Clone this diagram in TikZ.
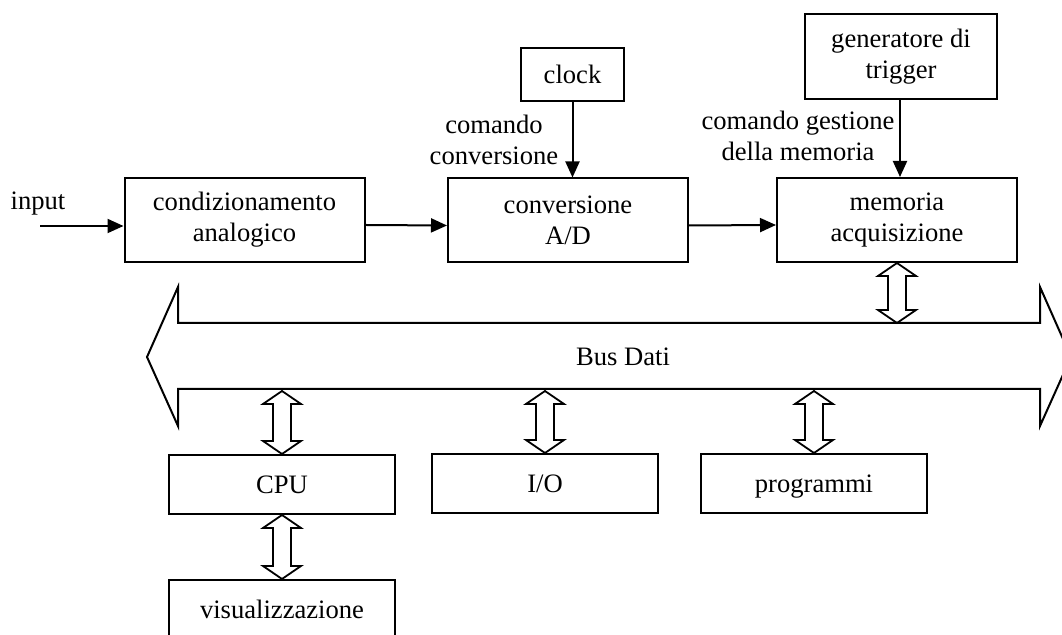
\documentclass[tikz,border=0pt]{standalone}
\usepackage{fontspec}
\setmainfont{Liberation Serif}
\usetikzlibrary{arrows.meta,calc}

\tikzset{
  blk/.style={draw,line width=1pt,inner sep=0pt,align=center},
  sig/.style={line width=1pt,-{Triangle[length=8pt,width=7pt]}},
  blockarrow/.style={line width=0.9pt,line join=miter}
}

% vertical block arrow with two heads, from #1 (top) to #2 (bottom)
\newcommand{\dbarrow}[2]{%
  \draw[blockarrow] let \p1=(#1), \p2=(#2) in
    (\x1,\y1) -- (\x1+9.5pt,\y1-6.5pt) -- (\x1+4.5pt,\y1-6.5pt)
    -- (\x1+4.5pt,\y2+6.5pt) -- (\x1+9.5pt,\y2+6.5pt) -- (\x1,\y2)
    -- (\x1-9.5pt,\y2+6.5pt) -- (\x1-4.5pt,\y2+6.5pt)
    -- (\x1-4.5pt,\y1-6.5pt) -- (\x1-9.5pt,\y1-6.5pt) -- cycle;}

\begin{document}
\begin{tikzpicture}[x=0.5pt,y=-0.5pt,every node/.style={font=\fontsize{13.3}{15.5}\selectfont}]
\useasboundingbox (0,0) rectangle (1062,635);

\begin{scope}[every node/.append style={blk,minimum width=120pt,minimum height=42pt}]
\node (cond) at (244.5,220) {condizionamento\\analogico};
\node (conv) at (568,220.5) {conversione\\A/D};
\node (mem) at (897,220) {memoria\\acquisizione};
\end{scope}

\node[blk,minimum width=51.5pt,minimum height=26.5pt] (clock) at (572.5,74.5) {clock};
\node[blk,minimum width=96pt,minimum height=42.5pt] (gen) at (901,56.5) {generatore di\\trigger};

\begin{scope}[every node/.append style={blk,minimum width=113pt,minimum height=29.5pt,text height=11pt,text depth=2pt}]
\node (cpu) at (282,484.5) {CPU};
\node (io) at (545,483.5) {I/O};
\node (prog) at (814,483.5) {programmi};
\node (vis) at (282,609.5) {visualizzazione};
\end{scope}

\node (input) at (38,204) {input};
\node[align=center] (cmdconv) at (494,140) {comando\\conversione};
\node[align=center] (cmdmem) at (798,136) {comando gestione\\della memoria};

\coordinate (in) at (40,226);
\draw[sig] (in) -- ([yshift=-3pt]cond.west);
\draw[sig] ([yshift=-2.5pt]cond.east) -- ([yshift=-2.5pt]conv.west);
\draw[sig] ([yshift=-2.5pt]conv.east) -- ([yshift=-2.5pt]mem.west);
\draw[sig] (clock) -- (clock.south |- conv.north);
\draw[sig] ([xshift=-0.5pt]gen.south) -- ([xshift=-0.5pt]gen.south |- mem.north);

% bus
\draw[line width=1pt,line join=miter] (147,357) -- (178,287) -- (178,323) -- (1040,323)
  -- (1040,287) -- (1071,357) -- (1040,426) -- (1040,389) -- (178,389) -- (178,426) -- cycle;
\node (bus) at (623,357) {Bus Dati};
\coordinate (bustop) at (0,323);
\coordinate (busbot) at (0,391);

\dbarrow{mem.south}{mem.south |- bustop}
\dbarrow{cpu.north |- busbot}{cpu.north}
\dbarrow{io.north |- busbot}{io.north}
\dbarrow{prog.north |- busbot}{prog.north}
\dbarrow{cpu.south}{vis.north}

\end{tikzpicture}
\end{document}
